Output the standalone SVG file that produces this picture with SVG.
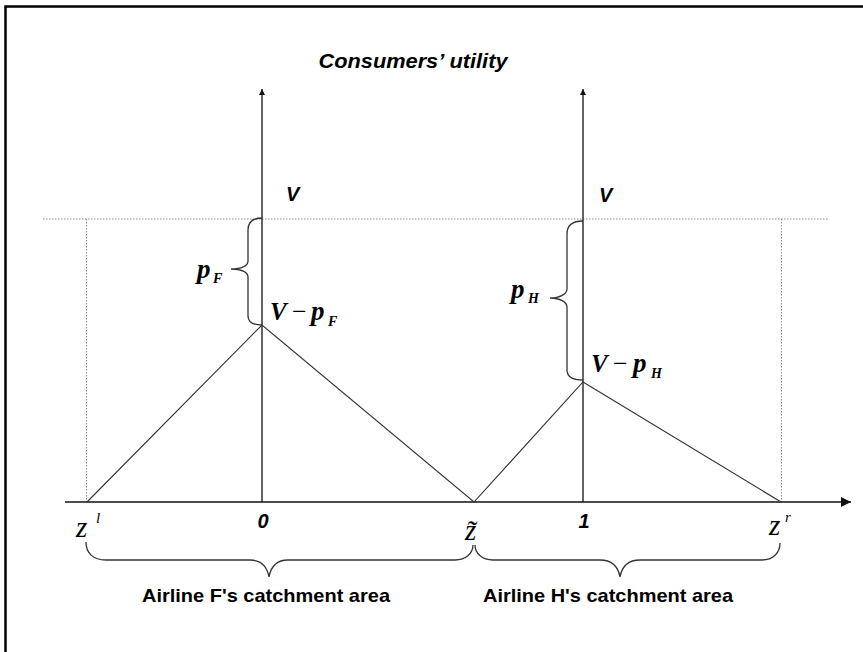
<svg xmlns="http://www.w3.org/2000/svg" width="863" height="652" viewBox="0 0 863 652">
<defs>
<style>
.axis{stroke:#111;stroke-width:1.3;fill:none}
.ray{stroke:#333;stroke-width:1.1;fill:none}
.dot{stroke:#888;stroke-width:1;stroke-dasharray:1.5,1.5;fill:none}
.brace{stroke:#333;stroke-width:1.3;fill:none}
.sans{font-family:"Liberation Sans",Arial,sans-serif;font-weight:bold;fill:#000}
.si{font-family:"Liberation Sans",Arial,sans-serif;font-weight:bold;font-style:italic;fill:#000}
.math{font-family:"Liberation Serif","Times New Roman",serif;font-weight:bold;font-style:italic;fill:#000}
.op{font-family:"Liberation Serif","Times New Roman",serif;fill:#000}
.zt{font-family:"Liberation Serif","Times New Roman",serif;font-style:italic;fill:#000}
</style>
<marker id="arrV" viewBox="0 0 10 10" refX="10" refY="5" markerWidth="7" markerHeight="6" markerUnits="userSpaceOnUse" orient="auto">
<path d="M0,0 L10,5 L0,10 z" fill="#111"/>
</marker>
<marker id="arrH" viewBox="0 0 10 10" refX="10" refY="5" markerWidth="13" markerHeight="10" markerUnits="userSpaceOnUse" orient="auto">
<path d="M0,0 L10,5 L0,10 z" fill="#111"/>
</marker>
</defs>
<rect x="0" y="0" width="863" height="652" fill="#fff"/>
<rect x="5.5" y="6.5" width="900" height="700" fill="none" stroke="#000" stroke-width="2.5"/>

<g id="title"><text class="si" x="413" y="68" font-size="20" text-anchor="middle" textLength="189" lengthAdjust="spacingAndGlyphs">Consumers’ utility</text></g>

<g id="guides">
<line class="dot" x1="43" y1="219" x2="828" y2="219"/>
<line class="dot" x1="86.5" y1="219" x2="86.5" y2="502"/>
<line class="dot" x1="781.5" y1="219" x2="781.5" y2="502"/>
</g>

<g id="connectors">
<line id="axis-x" class="axis" x1="65" y1="502" x2="851" y2="502" marker-end="url(#arrH)"/>
<line id="axis-0" class="axis" x1="262" y1="502" x2="262" y2="89" marker-end="url(#arrV)"/>
<line id="axis-1" class="axis" x1="583" y1="502" x2="583" y2="89" marker-end="url(#arrV)"/>
<polyline class="ray" points="87,502 262,325 474,502 583,382 781,502"/>
</g>

<g id="brace-pF">
<path class="brace" d="M262,218 C253,218 248,222 248,230 L248,261 C248,266 241,269 231,269 C241,269 248,272 248,277 L248,316 C248,322 253,325 262,325"/>
<text class="math" x="197" y="278" font-size="27">p</text>
<text class="math" x="213" y="283" font-size="14">F</text>
</g>

<g id="brace-pH">
<path class="brace" d="M583,221 C572,221 567,226 567,234 L567,289 C567,294 560,298 550,298 C560,298 567,302 567,307 L567,370 C567,377 572,380 583,380"/>
<text class="math" x="511" y="298" font-size="27">p</text>
<text class="math" x="528" y="303" font-size="14">H</text>
</g>

<g id="label-V-left"><text class="si" x="286" y="201" font-size="20">V</text></g>
<g id="label-V-right"><text class="si" x="599" y="202" font-size="20">V</text></g>

<g id="label-VpF">
<text class="math" x="270" y="320" font-size="25">V</text>
<text class="op" x="292" y="320" font-size="26">−</text>
<text class="math" x="311" y="320" font-size="27">p</text>
<text class="math" x="328" y="326" font-size="14">F</text>
</g>
<g id="label-VpH">
<text class="math" x="591" y="372" font-size="25">V</text>
<text class="op" x="613" y="372" font-size="26">−</text>
<text class="math" x="633" y="372" font-size="27">p</text>
<text class="math" x="651" y="378" font-size="14">H</text>
</g>

<g id="ticks">
<text class="zt" x="76" y="537" font-size="29">z</text>
<text class="zt" x="96" y="523" font-size="15">l</text>
<text class="si" x="263" y="528" font-size="20" text-anchor="middle">0</text>
<text class="zt" x="465" y="540" font-size="29">z̃</text>
<text class="si" x="584" y="528" font-size="20" text-anchor="middle">1</text>
<text class="zt" x="769" y="535" font-size="29">z</text>
<text class="zt" x="785" y="522" font-size="15">r</text>
</g>

<g id="area-F">
<path class="brace" d="M86,542 C86,553 93,560 106,560 L250,560 C261,560 267,566 269,577 C271,566 277,560 288,560 L455,560 C466,560 473,553 473,545"/>
<text class="sans" x="266" y="602" font-size="19" text-anchor="middle" textLength="248" lengthAdjust="spacingAndGlyphs">Airline F's catchment area</text>
</g>
<g id="area-H">
<path class="brace" d="M475,545 C475,553 482,560 493,560 L600,560 C611,560 618,566 620,577 C622,566 629,560 640,560 L762,560 C773,560 780,553 780,543"/>
<text class="sans" x="608" y="602" font-size="19" text-anchor="middle" textLength="250" lengthAdjust="spacingAndGlyphs">Airline H's catchment area</text>
</g>
</svg>
